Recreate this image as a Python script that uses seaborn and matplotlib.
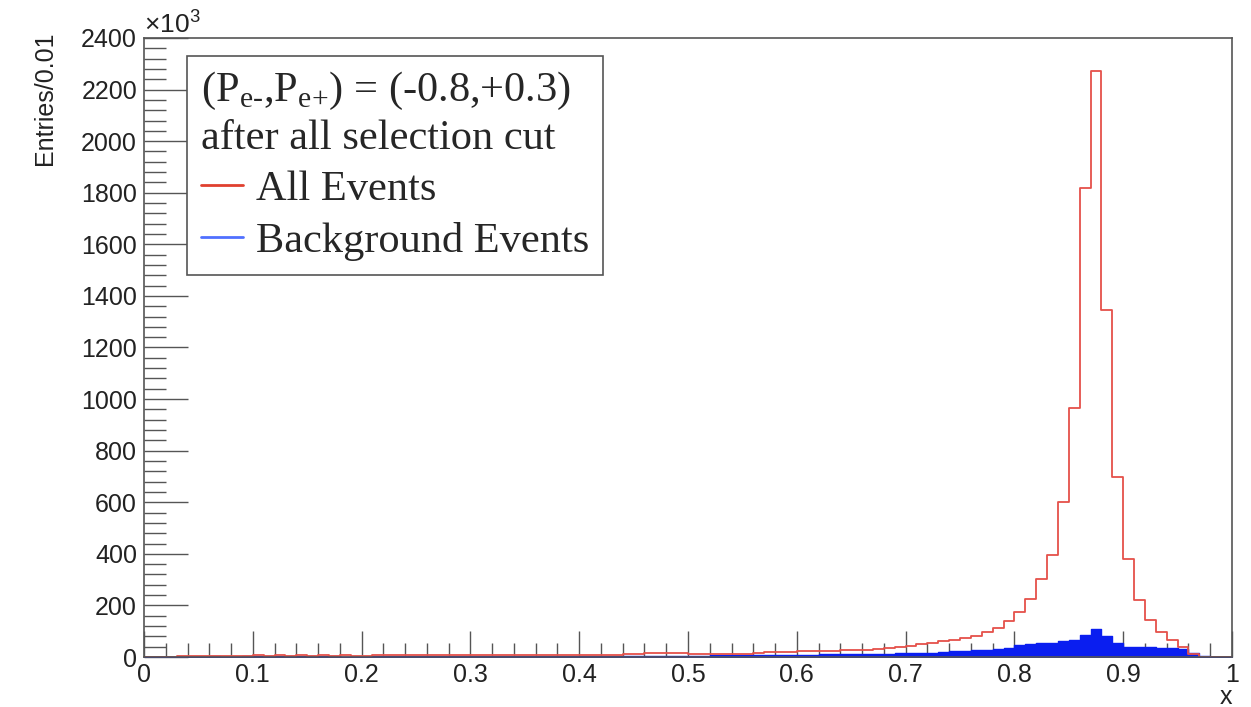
import numpy as np
import pandas as pd
import matplotlib
matplotlib.use('Agg')
import matplotlib.pyplot as plt
import seaborn as sns
from matplotlib.lines import Line2D
from matplotlib.ticker import MultipleLocator, FuncFormatter

# bin edges, width 0.01 (values in units of 10^3 entries)
bin_edges = [round(i * 0.01, 2) for i in range(101)]

all_events = [0, 0, 0, 4, 5, 5, 5, 5, 3, 5,
              6, 5, 6, 5, 7, 5, 6, 5, 6, 5,
              2, 6, 6, 7, 6, 7, 6, 7, 7, 6,
              7, 7, 8, 7, 7, 8, 7, 8, 7, 8,
              7, 8, 8, 9, 10, 13, 14, 14, 14, 15,
              13, 12, 12, 12, 13, 12, 17, 18, 19, 20,
              22, 22, 24, 25, 27, 28, 29, 31, 35, 39,
              44, 50, 54, 61, 67, 74, 83, 98, 112, 138,
              176, 225, 303, 395, 600, 964, 1817, 2270, 1344, 697,
              380, 222, 145, 96, 66, 38, 12, 0, 0, 0]

bkg_events = [0, 0, 0, 1, 1, 1, 2, 1, 1, 2,
              3, 2, 4, 5, 3, 2, 3, 2, 1, 1,
              0, 3, 3, 3, 3, 3, 3, 3, 3, 3,
              3, 3, 4, 5, 4, 3, 3, 3, 4, 4,
              5, 4, 4, 4, 5, 5, 5, 5, 5, 5,
              5, 5, 6, 6, 6, 6, 8, 9, 9, 9,
              9, 9, 10, 11, 12, 12, 13, 13, 13, 14,
              15, 15, 16, 19, 22, 24, 26, 28, 32, 36,
              46, 52, 54, 55, 62, 66, 87, 107, 81, 54,
              40, 38, 37, 36, 36, 32, 15, 3, 0, 0]

df = pd.DataFrame({'x': [e + 0.005 for e in bin_edges[:-1]],
                   'all': all_events,
                   'bkg': bkg_events})

sns.set_theme(style='ticks')
plt.rcParams['font.family'] = ['Liberation Sans', 'DejaVu Sans']
plt.rcParams['mathtext.fontset'] = 'custom'
plt.rcParams['mathtext.rm'] = 'Liberation Serif'
plt.rcParams['mathtext.sf'] = 'Liberation Sans'

fig = plt.figure(figsize=(12.51, 7.07), dpi=100)
ax = fig.add_axes([0.1151, 0.0707, 0.8697, 0.8756])

sns.histplot(data=df, x='x', weights='all', bins=bin_edges, element='step',
             fill=False, color='#e5514a', linewidth=1.3, ax=ax)
sns.histplot(data=df, x='x', weights='bkg', bins=bin_edges, element='step',
             fill=True, color='#0a1ef0', alpha=1, linewidth=1.0, ax=ax)

ax.set_xlim(0, 1)
ax.set_ylim(0, 2400)

ax.xaxis.set_major_locator(MultipleLocator(0.1))
ax.xaxis.set_minor_locator(MultipleLocator(0.02))
ax.yaxis.set_major_locator(MultipleLocator(200))
ax.yaxis.set_minor_locator(MultipleLocator(40))
ax.xaxis.set_major_formatter(FuncFormatter(lambda v, _: f'{v:g}'))

ax.tick_params(which='both', direction='in', top=False, right=False,
               colors='#555555', labelcolor='#222222', labelsize=18, width=1.0)
ax.tick_params(axis='y', which='major', length=32, pad=5)
ax.tick_params(axis='y', which='minor', length=16)
ax.tick_params(axis='x', which='major', length=19, pad=4)
ax.tick_params(axis='x', which='minor', length=10)

for s in ax.spines.values():
    s.set_color('#555555')
    s.set_linewidth(1.2)

ax.set_ylabel('Entries/0.01', loc='top', fontsize=18, color='#222222')
ax.yaxis.set_label_coords(-0.08, 1.01)
ax.set_xlabel('x', loc='right', fontsize=18, color='#222222', labelpad=-1)

ax.text(0.0, 1.0, '×10$^{\\mathsf{3}}$', transform=ax.transAxes,
        ha='left', va='bottom', fontsize=19, color='#222222')

handles = [Line2D([], [], color='#e0402f', lw=2),
           Line2D([], [], color='#5070ff', lw=2)]
leg = ax.legend(handles, ['All Events', 'Background Events'],
                title='(P$_{\\text{e-}}$,P$_{\\text{e+}}$) = (-0.8,+0.3)\nafter all selection cut',
                loc='upper left', bbox_to_anchor=(0.0395, 0.971), borderaxespad=0,
                prop={'family': 'Liberation Serif', 'size': 30.5},
                title_fontproperties={'family': 'Liberation Serif', 'size': 30.5},
                alignment='left', frameon=True, fancybox=False, framealpha=1,
                edgecolor='#555555', handlelength=1.0, handletextpad=0.3,
                labelspacing=0.3, borderpad=0.33)
leg.get_title().set_linespacing(1.25)
leg.get_frame().set_linewidth(1.2)

fig.savefig('out.png', dpi=100)
